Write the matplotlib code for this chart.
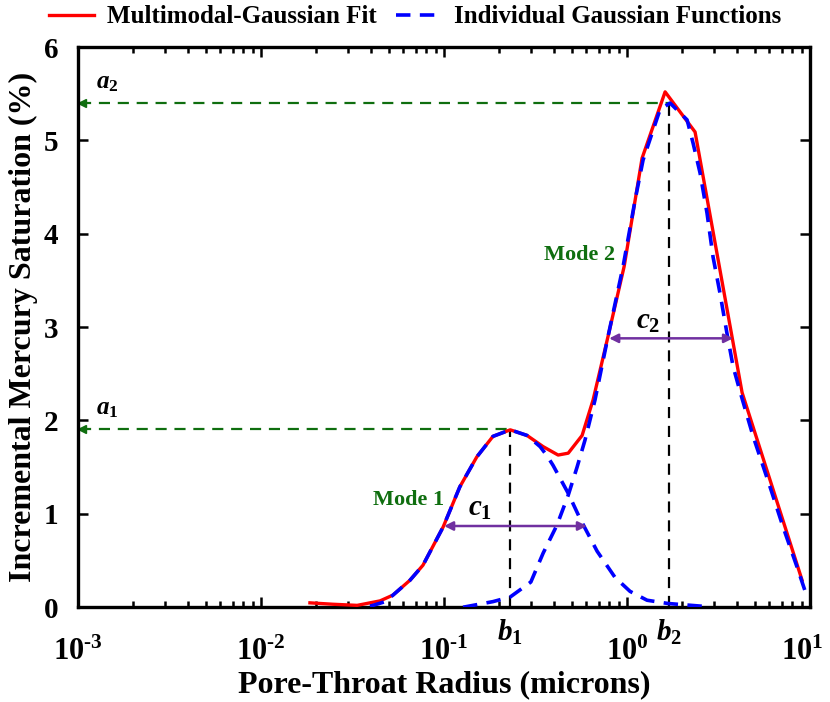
import matplotlib
matplotlib.use('Agg')
import numpy as np
import matplotlib.pyplot as plt
from matplotlib.transforms import ScaledTranslation
from matplotlib.ticker import LogLocator, NullFormatter, FixedLocator, FixedFormatter

plt.rcParams['font.family'] = ['Liberation Serif', 'DejaVu Serif']
plt.rcParams['font.weight'] = 'bold'
plt.rcParams['mathtext.fontset'] = 'custom'
plt.rcParams['mathtext.rm'] = 'Liberation Serif:bold'
plt.rcParams['mathtext.it'] = 'Liberation Serif:italic:bold'
plt.rcParams['mathtext.bf'] = 'Liberation Serif:bold'

# multimodal gaussian fit
fit_r = [0.0185, 0.0247, 0.0335, 0.0394, 0.0447, 0.0526, 0.0652, 0.0767, 0.0989,
         0.122, 0.151, 0.185, 0.230, 0.284, 0.348, 0.420, 0.477, 0.568, 0.652,
         0.787, 0.964, 1.208, 1.614, 2.353, 4.25, 9.04]
fit_s = [0.047, 0.032, 0.020, 0.047, 0.068, 0.13, 0.29, 0.45, 0.86,
         1.29, 1.61, 1.83, 1.90, 1.84, 1.72, 1.63, 1.65, 1.84, 2.22,
         2.90, 3.65, 4.81, 5.52, 5.09, 2.30, 0.29]

# individual gaussian 1
g1_r = [0.0394, 0.0477, 0.0526, 0.0652, 0.0767, 0.0989, 0.122, 0.151, 0.185,
        0.230, 0.284, 0.335, 0.366, 0.394, 0.477, 0.553, 0.686, 0.859, 1.038,
        1.286, 1.675, 2.60]
g1_s = [0.01, 0.06, 0.13, 0.29, 0.45, 0.86, 1.29, 1.61, 1.83,
        1.90, 1.84, 1.72, 1.62, 1.52, 1.22, 0.95, 0.60, 0.32, 0.17,
        0.075, 0.04, 0.01]

# individual gaussian 2
g2_r = [0.127, 0.185, 0.230, 0.298, 0.348, 0.414, 0.477, 0.533, 0.589, 0.668,
        0.787, 0.951, 1.106, 1.223, 1.514, 1.718, 2.128, 2.295, 2.506, 2.735,
        2.951, 3.222, 3.517, 3.795, 4.143, 4.884, 6.040, 7.117, 8.49, 9.63]
g2_s = [0.0, 0.06, 0.11, 0.27, 0.58, 0.88, 1.20, 1.50, 1.79, 2.22,
        2.90, 3.65, 4.36, 4.79, 5.33, 5.40, 5.22, 4.97, 4.65, 4.22,
        3.75, 3.36, 2.93, 2.58, 2.31, 1.83, 1.29, 0.86, 0.43, 0.11]

# mode parameters
a1, b1 = 1.91, 0.230
a2, b2 = 5.40, 1.70
c1_span, c1_y = (0.100, 0.604), 0.87
c2_span, c2_y = (0.798, 3.795), 2.88

xticks = [1e-3, 1e-2, 1e-1, 1e0, 1e1]
xticklabels = [r'$10^{\text{-}3}$', r'$10^{\text{-}2}$', r'$10^{\text{-}1}$',
               r'$10^{0}$', r'$10^{1}$']

green = '#0f6e0f'
purple = '#7030a0'

fig = plt.figure(figsize=(8.3, 7.02), dpi=100)
ax = fig.add_axes([0.094, 0.135, 0.882, 0.798])

ax.plot(fit_r, fit_s, color='#ff0000', lw=2.4, zorder=3, label='Multimodal-Gaussian Fit')
ax.plot(g1_r, g1_s, color='#0000ff', lw=2.6, ls=(0, (4, 2.6)), zorder=4,
        label='Individual Gaussian Functions')
ax.plot(g2_r, g2_s, color='#0000ff', lw=2.6, ls=(0, (4, 2.6)), zorder=4)

# peak markers
ax.plot([b1, b1], [0, a1], color='black', lw=1.6, ls=(0, (5, 3.5)), zorder=2)
ax.plot([b2, b2], [0, a2], color='black', lw=1.6, ls=(0, (5, 3.5)), zorder=2)
ax.plot([1.03e-3, b1], [a1, a1], color=green, lw=1.6, ls=(0, (5, 3.5)), zorder=2)
ax.plot([1.03e-3, b2], [a2, a2], color=green, lw=1.6, ls=(0, (5, 3.5)), zorder=2)
ax.plot([1.05e-3], [a1], marker='<', color=green, ms=6, zorder=2)
ax.plot([1.05e-3], [a2], marker='<', color=green, ms=6, zorder=2)

for span, yy in [(c1_span, c1_y), (c2_span, c2_y)]:
    ax.annotate('', xy=(span[0], yy), xytext=(span[1], yy),
                arrowprops=dict(arrowstyle='<|-|>', color=purple, lw=1.8,
                                mutation_scale=13, shrinkA=0, shrinkB=0), zorder=5)

ax.text(1.25e-3, a2 + 0.1, r'$\mathit{a}_{\mathit{2}}$', fontsize=18, ha='left', va='bottom')
ax.text(1.25e-3, a1 + 0.1, r'$\mathit{a}_{\mathit{1}}$', fontsize=18, ha='left', va='bottom')
ax.text(0.158, c1_y + 0.04, r'$\mathit{c}_{\mathit{1}}$', fontsize=21, ha='center', va='bottom')
ax.text(1.3, c2_y + 0.04, r'$\mathit{c}_{\mathit{2}}$', fontsize=21, ha='center', va='bottom')
ax.text(0.064, 1.15, 'Mode 1', color=green, fontsize=16, ha='center', va='center')
ax.text(0.55, 3.77, 'Mode 2', color=green, fontsize=16, ha='center', va='center')

trans = ax.get_xaxis_transform()
ax.text(b1, -0.045, r'$\mathit{b}_{\mathit{1}}$', transform=trans, fontsize=21,
        ha='center', va='center')
ax.text(b2, -0.045, r'$\mathit{b}_{\mathit{2}}$', transform=trans, fontsize=21,
        ha='center', va='center')

ax.set_xscale('log')
ax.set_xlim(1e-3, 1e1)
ax.set_ylim(0, 6)
ax.xaxis.set_major_locator(FixedLocator(xticks))
ax.xaxis.set_major_formatter(FixedFormatter(xticklabels))
ax.xaxis.set_minor_locator(LogLocator(base=10, subs=np.arange(2, 10), numticks=20))
ax.xaxis.set_minor_formatter(NullFormatter())
ax.set_yticks(range(7))

ax.tick_params(which='both', direction='in', top=True, right=True, width=1.8)
ax.tick_params(which='major', length=7)
ax.tick_params(which='minor', length=4)
ax.tick_params(axis='x', which='major', labelsize=22, pad=22)
ax.tick_params(axis='y', which='major', labelsize=21, pad=14)
for sp in ax.spines.values():
    sp.set_linewidth(2.4)

# nudge the last x tick label so it stays inside the figure
last = ax.xaxis.get_major_ticks()[-1].label1
last.set_transform(last.get_transform() + ScaledTranslation(-6 / 72, 0, fig.dpi_scale_trans))

ax.set_xlabel('Pore-Throat Radius (microns)', fontsize=23, fontweight='bold', labelpad=2)
ax.set_ylabel('Incremental Mercury Saturation (%)', fontsize=23, fontweight='bold', labelpad=4)

fig.legend(loc='center', bbox_to_anchor=(0.5, 0.976), ncol=2, frameon=False,
           handlelength=1.8, columnspacing=0.8, handletextpad=0.5,
           prop={'weight': 'bold', 'size': 18})

fig.savefig('out.png', dpi=100)
